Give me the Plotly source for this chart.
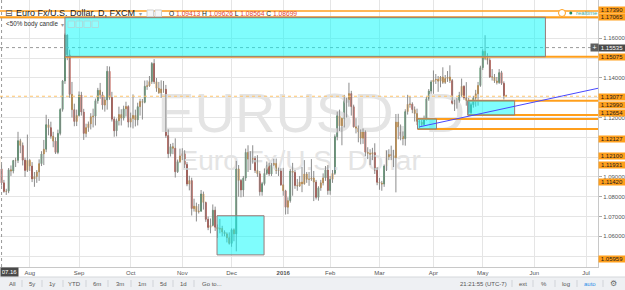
import pandas as pd
import plotly.graph_objects as go

# ---------------- data (EURUSD daily, FXCM) ----------------
OPEN = [
    # Jul 2015
    1.1003, 1.0941, 1.0870, 1.0827, 1.0828, 1.0936, 1.0930, 1.0983, 1.0984, 1.1083, 1.1059, 1.0985, 1.0933,
    # Aug
    1.0984, 1.0955, 1.0890, 1.0902, 1.0925, 1.0967, 1.1016, 1.1040, 1.1164, 1.1149, 1.1106,
    1.1081, 1.1024, 1.1120, 1.1241, 1.1385, 1.1617, 1.1517, 1.1317, 1.1240, 1.1180,
    # Sep
    1.1211, 1.1314, 1.1228, 1.1120, 1.1149, 1.1168, 1.1204, 1.1207, 1.1285, 1.1338, 1.1315,
    1.1263, 1.1289, 1.1434, 1.1302, 1.1192, 1.1133, 1.1184, 1.1215, 1.1197, 1.1244, 1.1256,
    # Oct
    1.1177, 1.1196, 1.1211, 1.1188, 1.1255, 1.1281, 1.1277, 1.1358, 1.1360, 1.1382, 1.1473,
    1.1381, 1.1348, 1.1325, 1.1344, 1.1343, 1.1109, 1.1017, 1.1053, 1.1045, 1.0926, 1.0977,
    # Nov
    1.1006, 1.1018, 1.0963, 1.0864, 1.0882, 1.0740, 1.0752, 1.0724, 1.0727, 1.0814, 1.0771,
    1.0686, 1.0645, 1.0655, 1.0732, 1.0646, 1.0636, 1.0640, 1.0622, 1.0612, 1.0593,
    # Dec
    1.0564, 1.0633, 1.0612, 1.0941, 1.0882, 1.0834, 1.0894, 1.1024, 1.0990, 1.0989, 1.0993,
    1.0933, 1.0916, 1.0825, 1.0866, 1.0918, 1.0956, 1.0915, 1.0962, 1.0968, 1.0933, 1.0930,
    # Jan 2016
    1.0860, 1.0830, 1.0747, 1.0780, 1.0930, 1.0923, 1.0857, 1.0854, 1.0874, 1.0865,
    1.0915, 1.0888, 1.0889, 1.0895, 1.0874, 1.0797, 1.0845, 1.0870, 1.0895, 1.0935,
    # Feb
    1.0831, 1.0888, 1.0918, 1.1103, 1.1210, 1.1158, 1.1196, 1.1288, 1.1289, 1.1321, 1.1255,
    1.1153, 1.1147, 1.1127, 1.1096, 1.1131, 1.1025, 1.1019, 1.1015, 1.1023, 1.0934,
    # Mar
    1.0873, 1.0869, 1.0864, 1.0955, 1.1002, 1.1013, 1.1008, 1.0997, 1.1177, 1.1152, 1.1107, 1.1093,
    1.1230, 1.1267, 1.1268, 1.1240, 1.1220, 1.1181, 1.1177, 1.1165, 1.1196, 1.1295, 1.1334,
    # Apr
    1.1380, 1.1390, 1.1393, 1.1384, 1.1405, 1.1378, 1.1397, 1.1405, 1.1387, 1.1272, 1.1269,
    1.1283, 1.1313, 1.1358, 1.1300, 1.1286, 1.1225, 1.1265, 1.1298, 1.1320, 1.1362,
    # May
    1.1452, 1.1535, 1.1500, 1.1490, 1.1405, 1.1405, 1.1385, 1.1377, 1.1427, 1.1373, 1.1310,
]
HIGH = [
    1.1032, 1.0963, 1.0885, 1.0840, 1.0945, 1.0958, 1.0986, 1.0997, 1.1128, 1.1093, 1.1074, 1.0997, 1.1114,
    1.0990, 1.0975, 1.0925, 1.0935, 1.0989, 1.1030, 1.1087, 1.1214, 1.1193, 1.1179, 1.1128,
    1.1100, 1.1139, 1.1247, 1.1390, 1.1625, 1.1620, 1.1543, 1.1380, 1.1270, 1.1240,
    1.1332, 1.1330, 1.1244, 1.1169, 1.1180, 1.1222, 1.1245, 1.1296, 1.1350, 1.1375, 1.1330,
    1.1305, 1.1460, 1.1458, 1.1330, 1.1205, 1.1195, 1.1255, 1.1242, 1.1260, 1.1280, 1.1262,
    1.1225, 1.1317, 1.1240, 1.1275, 1.1295, 1.1294, 1.1387, 1.1388, 1.1410, 1.1480, 1.1495,
    1.1400, 1.1380, 1.1388, 1.1385, 1.1365, 1.1140, 1.1067, 1.1072, 1.1095, 1.0988, 1.1043,
    1.1045, 1.1035, 1.0975, 1.0906, 1.0896, 1.0790, 1.0770, 1.0763, 1.0834, 1.0826, 1.0775,
    1.0700, 1.0690, 1.0761, 1.0750, 1.0660, 1.0688, 1.0653, 1.0630, 1.0620, 1.0620,
    1.0640, 1.0640, 1.0981, 1.0960, 1.0890, 1.0905, 1.1043, 1.1060, 1.1030, 1.1060, 1.1005,
    1.1010, 1.0930, 1.0875, 1.0943, 1.0978, 1.0972, 1.0970, 1.0991, 1.0993, 1.0947, 1.0944,
    1.0946, 1.0835, 1.0797, 1.0940, 1.0971, 1.0935, 1.0890, 1.0905, 1.0950, 1.0985,
    1.0925, 1.0925, 1.0990, 1.0930, 1.0885, 1.0853, 1.0885, 1.0918, 1.0955, 1.0960,
    1.0905, 1.0935, 1.1115, 1.1230, 1.1240, 1.1200, 1.1315, 1.1300, 1.1376, 1.1335, 1.1265,
    1.1197, 1.1160, 1.1140, 1.1145, 1.1135, 1.1050, 1.1040, 1.1047, 1.1070, 1.0950,
    1.0895, 1.0880, 1.0963, 1.1034, 1.1040, 1.1058, 1.1037, 1.1218, 1.1219, 1.1165, 1.1130, 1.1242,
    1.1315, 1.1307, 1.1277, 1.1256, 1.1245, 1.1190, 1.1190, 1.1210, 1.1305, 1.1344, 1.1389,
    1.1438, 1.1420, 1.1410, 1.1410, 1.1454, 1.1415, 1.1435, 1.1464, 1.1395, 1.1290, 1.1300,
    1.1330, 1.1397, 1.1363, 1.1379, 1.1300, 1.1275, 1.1310, 1.1340, 1.1380, 1.1462,
    1.1545, 1.1616, 1.1525, 1.1500, 1.1445, 1.1420, 1.1405, 1.1445, 1.1436, 1.1383, 1.1315,
]
LOW = [
    1.0915, 1.0856, 1.0820, 1.0809, 1.0818, 1.0905, 1.0918, 1.0950, 1.0970, 1.1020, 1.0958, 1.0900, 1.0925,
    1.0930, 1.0874, 1.0850, 1.0870, 1.0880, 1.0955, 1.0960, 1.1025, 1.1110, 1.1093, 1.1050,
    1.1016, 1.1015, 1.1110, 1.1230, 1.1370, 1.1490, 1.1300, 1.1200, 1.1156, 1.1157,
    1.1205, 1.1210, 1.1087, 1.1101, 1.1128, 1.1140, 1.1150, 1.1160, 1.1270, 1.1295, 1.1240,
    1.1230, 1.1240, 1.1290, 1.1180, 1.1103, 1.1105, 1.1160, 1.1160, 1.1185, 1.1205, 1.1150,
    1.1150, 1.1145, 1.1155, 1.1160, 1.1210, 1.1190, 1.1272, 1.1340, 1.1355, 1.1370, 1.1370,
    1.1330, 1.1320, 1.1300, 1.1325, 1.1098, 1.0995, 1.1003, 1.1015, 1.0897, 1.0920, 1.0970,
    1.0985, 1.0945, 1.0853, 1.0832, 1.0705, 1.0725, 1.0675, 1.0715, 1.0725, 1.0735, 1.0673,
    1.0631, 1.0615, 1.0650, 1.0627, 1.0592, 1.0615, 1.0600, 1.0600, 1.0569, 1.0558,
    1.0547, 1.0575, 1.0524, 1.0800, 1.0797, 1.0800, 1.0880, 1.0925, 1.0935, 1.0967, 1.0920,
    1.0900, 1.0805, 1.0805, 1.0857, 1.0910, 1.0905, 1.0905, 1.0955, 1.0915, 1.0905, 1.0855,
    1.0805, 1.0710, 1.0712, 1.0770, 1.0805, 1.0840, 1.0830, 1.0850, 1.0823, 1.0861,
    1.0870, 1.0855, 1.0880, 1.0778, 1.0786, 1.0780, 1.0830, 1.0857, 1.0880, 1.0810,
    1.0810, 1.0870, 1.0910, 1.1085, 1.1132, 1.1060, 1.1150, 1.1200, 1.1255, 1.1210, 1.1150,
    1.1120, 1.1075, 1.1065, 1.1067, 1.1005, 1.0990, 1.0960, 1.0985, 1.0915, 1.0858,
    1.0835, 1.0830, 1.0850, 1.0930, 1.0985, 1.0985, 1.0950, 1.0822, 1.1090, 1.1085, 1.1060, 1.1058,
    1.1215, 1.1250, 1.1222, 1.1180, 1.1162, 1.1144, 1.1158, 1.1160, 1.1185, 1.1285, 1.1320,
    1.1320, 1.1370, 1.1330, 1.1353, 1.1370, 1.1370, 1.1380, 1.1375, 1.1266, 1.1233, 1.1245,
    1.1275, 1.1305, 1.1290, 1.1260, 1.1214, 1.1217, 1.1250, 1.1255, 1.1260, 1.1355,
    1.1440, 1.1490, 1.1468, 1.1400, 1.1387, 1.1375, 1.1367, 1.1370, 1.1365, 1.1291, 1.1305,
]
CLOSE = [
    1.0947, 1.0870, 1.0827, 1.0828, 1.0936, 1.0930, 1.0983, 1.0984, 1.1083, 1.1059, 1.0985, 1.0933, 1.0984,
    1.0955, 1.0890, 1.0902, 1.0925, 1.0967, 1.1016, 1.1040, 1.1164, 1.1149, 1.1106, 1.1081,
    1.1024, 1.1120, 1.1241, 1.1385, 1.1617, 1.1517, 1.1317, 1.1240, 1.1180, 1.1211,
    1.1314, 1.1228, 1.1120, 1.1149, 1.1168, 1.1204, 1.1207, 1.1285, 1.1338, 1.1315, 1.1263,
    1.1289, 1.1434, 1.1302, 1.1192, 1.1133, 1.1184, 1.1215, 1.1197, 1.1244, 1.1256, 1.1177,
    1.1196, 1.1211, 1.1188, 1.1255, 1.1281, 1.1277, 1.1358, 1.1360, 1.1382, 1.1473, 1.1381,
    1.1348, 1.1325, 1.1344, 1.1343, 1.1109, 1.1017, 1.1053, 1.1045, 1.0926, 1.0977, 1.1006,
    1.1018, 1.0963, 1.0864, 1.0882, 1.0740, 1.0752, 1.0724, 1.0727, 1.0814, 1.0771, 1.0686,
    1.0645, 1.0655, 1.0732, 1.0646, 1.0636, 1.0640, 1.0622, 1.0612, 1.0593, 1.0564,
    1.0633, 1.0612, 1.0941, 1.0882, 1.0834, 1.0894, 1.1024, 1.0990, 1.0989, 1.0993, 1.0933,
    1.0916, 1.0825, 1.0866, 1.0918, 1.0956, 1.0915, 1.0962, 1.0968, 1.0933, 1.0930, 1.0860,
    1.0830, 1.0747, 1.0780, 1.0930, 1.0923, 1.0857, 1.0854, 1.0874, 1.0865, 1.0915,
    1.0888, 1.0889, 1.0895, 1.0874, 1.0797, 1.0845, 1.0870, 1.0895, 1.0935, 1.0831,
    1.0888, 1.0918, 1.1103, 1.1210, 1.1158, 1.1196, 1.1288, 1.1289, 1.1321, 1.1255, 1.1153,
    1.1147, 1.1127, 1.1096, 1.1131, 1.1025, 1.1019, 1.1015, 1.1023, 1.0934, 1.0873,
    1.0869, 1.0864, 1.0955, 1.1002, 1.1013, 1.1008, 1.0997, 1.1177, 1.1152, 1.1107, 1.1093, 1.1230,
    1.1267, 1.1268, 1.1240, 1.1220, 1.1181, 1.1177, 1.1165, 1.1196, 1.1295, 1.1334, 1.1380,
    1.1390, 1.1393, 1.1384, 1.1405, 1.1378, 1.1397, 1.1405, 1.1387, 1.1272, 1.1269, 1.1283,
    1.1313, 1.1358, 1.1300, 1.1286, 1.1225, 1.1265, 1.1298, 1.1320, 1.1362, 1.1452,
    1.1535, 1.1500, 1.1490, 1.1405, 1.1405, 1.1385, 1.1377, 1.1427, 1.1373, 1.1310, 1.1308,
]

HOLIDAYS = ["2015-12-25", "2016-01-01"]
DATES = [d.strftime("%Y-%m-%d") for d in pd.bdate_range("2015-07-15", "2016-05-16")
         if d.strftime("%Y-%m-%d") not in HOLIDAYS]
assert len(DATES) == len(OPEN) == len(HIGH) == len(LOW) == len(CLOSE)

MONTH_TICKS = ["2015-08-03", "2015-09-01", "2015-10-01", "2015-11-02", "2015-12-01", "2016-01-04",
               "2016-02-01", "2016-03-01", "2016-04-01", "2016-05-02", "2016-06-01", "2016-07-01"]
MONTH_LABELS = ["Aug", "Sep", "Oct", "Nov", "Dec", "<b>2016</b>", "Feb", "Mar", "Apr", "May", "Jun", "Jul"]

# price grid (every 0.01); only the levels not hidden behind a level label are printed
PRICE_TICKS = [1.05, 1.06, 1.07, 1.08, 1.09, 1.10, 1.11, 1.12, 1.13, 1.14, 1.15, 1.16, 1.17]
PRINTED_TICKS = [1.06, 1.07, 1.08, 1.09, 1.12, 1.14, 1.16]

FULL_LINES = [1.17390, 1.17065]
LAST_PRICE = 1.13077
CROSS_PRICE = 1.15535
CROSS_DATE = "2015-07-16"
# zones: (x0, x1, low, high)
ZONES = [("2015-08-24", "2016-06-07 17:00", 1.15075, 1.17065),
         ("2015-11-20 19:00", "2015-12-18 20:00", 1.0506, 1.0704),
         ("2016-03-23 05:00", "2016-04-04 07:00", 1.11420, 1.11931),
         ("2016-04-21 14:00", "2016-05-19 14:00", 1.12127, 1.1285)]
RAYS = [("2015-08-24", 1.15075), ("2016-04-21 14:00", 1.1285), ("2016-04-21 14:00", 1.12127),
        ("2016-03-23 05:00", 1.11931), ("2016-03-23 05:00", 1.11420)]
TREND = [("2016-03-24", 1.1153), ("2016-07-08 02:30", 1.1348)]
X_RANGE = ["2015-07-15 08:00", "2016-07-08 02:30"]
Y_RANGE = [1.04449, 1.17940]

# price-scale labels: (text, display row in px, style)
PRICE_LABELS = [("1.17390", 10.5, "o"), ("1.17065", 17.4, "o"), ("1.15535", 47.6, "d"),
                ("1.15075", 57.0, "o"), ("1.13077", 97.0, "o"), ("1.12990", 105.0, "o"),
                ("1.12654", 113.0, "o"), ("1.12127", 139.0, "o"), ("1.12100", 155.5, "o"),
                ("1.11931", 164.5, "o"), ("1.11420", 181.5, "o"), ("1.05959", 258.5, "o")]

# ---------------- styling ----------------
W_PLOT, H_PLOT = 598, 267
FONT = "Liberation Sans, Arial, sans-serif"
GREEN, RED, ORANGE_BODY = "#3a8a58", "#b02e22", "#d8881f"
WICK = "#8c8c8c"
ORANGE = "#ff9f1c"
CYAN = "rgba(0,252,252,0.5)"


def px(X):
    return X / W_PLOT


def py(Y):
    return 1 - Y / H_PLOT


fig = go.Figure()

# watermark (behind candles)
fig.add_trace(go.Scatter(x=["2016-01-19 21:40"], y=[1.1200], mode="text", text=["EURUSD, D"],
                         textfont=dict(size=56, color="#e4e4e4", family=FONT),
                         textposition="middle center", hoverinfo="skip"))
fig.add_trace(go.Scatter(x=["2016-01-13 05:00"], y=[1.0970], mode="text", text=["Euro Fx/U.S. Dollar"],
                         textfont=dict(size=28, color="#e4e4e4", family=FONT),
                         textposition="middle center", hoverinfo="skip"))

# wicks
wx, wy = [], []
for d, h, l in zip(DATES, HIGH, LOW):
    wx += [d, d, None]
    wy += [l, h, None]
fig.add_trace(go.Scatter(x=wx, y=wy, mode="lines", line=dict(color=WICK, width=1), hoverinfo="skip"))

# bodies
groups = {"g": [], "r": [], "s": []}
for i in range(len(DATES)):
    body = abs(CLOSE[i] - OPEN[i])
    rng = HIGH[i] - LOW[i]
    if rng > 0 and body < 0.5 * rng:
        groups["s"].append(i)
    elif CLOSE[i] >= OPEN[i]:
        groups["g"].append(i)
    else:
        groups["r"].append(i)
for key, col in (("g", GREEN), ("r", RED), ("s", ORANGE_BODY)):
    idx = groups[key]
    fig.add_trace(go.Candlestick(
        x=[DATES[i] for i in idx],
        open=[OPEN[i] for i in idx],
        high=[max(OPEN[i], CLOSE[i]) for i in idx],
        low=[min(OPEN[i], CLOSE[i]) for i in idx],
        close=[CLOSE[i] for i in idx],
        increasing=dict(line=dict(color=col, width=1), fillcolor=col),
        decreasing=dict(line=dict(color=col, width=1), fillcolor=col),
        whiskerwidth=0, hoverinfo="skip", showlegend=False))

shapes = []
# crosshair + last price
shapes.append(dict(type="line", xref="paper", yref="y", x0=0, x1=1, y0=CROSS_PRICE, y1=CROSS_PRICE,
                   line=dict(color="#9a9a9a", width=1, dash="dot")))
shapes.append(dict(type="line", xref="x", yref="paper", x0=CROSS_DATE, x1=CROSS_DATE, y0=0, y1=1,
                   line=dict(color="#9a9a9a", width=1, dash="dot")))
shapes.append(dict(type="line", xref="paper", yref="y", x0=0, x1=1, y0=LAST_PRICE, y1=LAST_PRICE,
                   line=dict(color="#ffc46b", width=1, dash="dot")))
# orange levels
for lv, w in zip(FULL_LINES, (1.5, 2)):
    shapes.append(dict(type="line", xref="paper", yref="y", x0=0, x1=1, y0=lv, y1=lv,
                       line=dict(color=ORANGE, width=w)))
for x0, lv in RAYS:
    shapes.append(dict(type="line", xref="x", yref="y", x0=x0, x1=X_RANGE[1], y0=lv, y1=lv,
                       line=dict(color=ORANGE, width=2)))
# zones
for x0, x1, lo, hi in ZONES:
    shapes.append(dict(type="rect", xref="x", yref="y", x0=x0, x1=x1, y0=lo, y1=hi,
                       fillcolor=CYAN, line=dict(color="#9b7a78", width=1)))
# trend line
shapes.append(dict(type="line", xref="x", yref="y", x0=TREND[0][0], y0=TREND[0][1],
                   x1=TREND[1][0], y1=TREND[1][1], line=dict(color="#4848ff", width=1)))

# realtime marker
shapes.append(dict(type="circle", xref="paper", yref="paper", x0=px(558.5), x1=px(565.5),
                   y0=py(16.5), y1=py(9.5), line=dict(color=ORANGE, width=1), fillcolor="white"))
shapes.append(dict(type="circle", xref="paper", yref="paper", x0=px(569.3), x1=px(572.3),
                   y0=py(14.5), y1=py(11.5), line=dict(width=0), fillcolor="#1f8a5c"))

# header icons
for X in (147, 155):
    shapes.append(dict(type="rect", xref="paper", yref="paper", x0=px(X), x1=px(X + 6.5),
                       y0=py(16.5), y1=py(10), line=dict(color="#d0d0d0", width=1), fillcolor="#f7f7f7"))
for X in (68, 76, 84, 92):
    shapes.append(dict(type="rect", xref="paper", yref="paper", x0=px(X), x1=px(X + 6.5),
                       y0=py(27.5), y1=py(21), line=dict(color="#a7dede", width=1), fillcolor="rgba(255,255,255,0.15)"))

# bottom toolbar
shapes.append(dict(type="rect", xref="paper", yref="paper", x0=0, x1=px(625), y0=py(290), y1=py(277),
                   fillcolor="#eef0f3", line=dict(width=0), layer="above"))
shapes.append(dict(type="line", xref="paper", yref="paper", x0=0, x1=px(625), y0=py(277), y1=py(277),
                   line=dict(color="#d5d8dc", width=1)))
for X in (22, 42, 63, 86, 108, 131, 153, 173, 194, 512, 533, 555, 577, 603):
    shapes.append(dict(type="line", xref="paper", yref="paper", x0=px(X), x1=px(X), y0=py(287), y1=py(280),
                       line=dict(color="#d0d3d8", width=1)))

annotations = []
# price axis labels
for text, Y, style in PRICE_LABELS:
    if style == "o":
        bg, fg = ORANGE, "#1a1a1a"
    else:
        bg, fg = "#4a4a4a", "white"
    annotations.append(dict(xref="paper", yref="paper", x=1.0, y=py(Y), xanchor="left", yanchor="middle",
                            text=text, showarrow=False, bgcolor=bg, borderpad=0, width=26,
                            font=dict(size=6, color=fg, family=FONT)))
annotations.append(dict(xref="paper", yref="paper", x=px(590), y=py(47.6), xanchor="left", yanchor="middle",
                        text="+", showarrow=False, bgcolor="#5e5e5e", borderpad=0, width=7,
                        font=dict(size=7, color="white", family=FONT)))
# crosshair date label
annotations.append(dict(xref="paper", yref="paper", x=0, y=py(272), xanchor="left", yanchor="middle",
                        text="07.16", showarrow=False, bgcolor="#4a4a4a", borderpad=1, width=15,
                        font=dict(size=6, color="white", family=FONT)))
# header
annotations.append(dict(xref="paper", yref="paper", x=px(3), y=py(13), xanchor="left", yanchor="middle",
                        text="⊟", showarrow=False, font=dict(size=9, color="#555", family="DejaVu Sans")))
annotations.append(dict(xref="paper", yref="paper", x=px(14), y=py(13), xanchor="left", yanchor="middle",
                        text="Euro Fx/U.S. Dollar, D, FXCM", showarrow=False,
                        font=dict(size=9, color="#222", family=FONT)))
annotations.append(dict(xref="paper", yref="paper", x=px(137), y=py(13.5), xanchor="left", yanchor="middle",
                        text="▾", showarrow=False, font=dict(size=6, color="#999", family="DejaVu Sans")))
red = "#e2473b"
ohlc = (f"O <span style='color:{red}'>1.09413</span> H <span style='color:{red}'>1.09626</span> "
        f"L <span style='color:{red}'>1.08564</span> C <span style='color:{red}'>1.08699</span>")
annotations.append(dict(xref="paper", yref="paper", x=px(167), y=py(13.5), xanchor="left", yanchor="middle",
                        text=ohlc, showarrow=False, font=dict(size=6.7, color="#222", family=FONT)))
annotations.append(dict(xref="paper", yref="paper", x=px(4), y=py(24), xanchor="left", yanchor="middle",
                        text="&lt;50% body candle", showarrow=False, font=dict(size=6.3, color="#333", family=FONT)))
annotations.append(dict(xref="paper", yref="paper", x=px(59), y=py(24), xanchor="left", yanchor="middle",
                        text="▾", showarrow=False, font=dict(size=6, color="#999", family="DejaVu Sans")))
annotations.append(dict(xref="paper", yref="paper", x=px(574), y=py(13), xanchor="left", yanchor="middle",
                        text="realtime", showarrow=False, font=dict(size=6, color="#3fae9c", family=FONT)))
# toolbar texts
for text, X in (("All", 12), ("5y", 32), ("1y", 52), ("YTD", 74), ("6m", 97), ("3m", 120),
                ("1m", 142), ("5d", 163), ("1d", 183), ("Go to...", 212),
                ("21:21:55 (UTC-7)", 483), ("ext", 523), ("%", 544), ("log", 566)):
    annotations.append(dict(xref="paper", yref="paper", x=px(X), y=py(283.5), xanchor="center",
                            yanchor="middle", text=text, showarrow=False,
                            font=dict(size=6, color="#555", family=FONT)))
annotations.append(dict(xref="paper", yref="paper", x=px(590), y=py(283.5), xanchor="center", yanchor="middle",
                        text="auto", showarrow=False, font=dict(size=6, color="#2a8ee8", family=FONT)))
annotations.append(dict(xref="paper", yref="paper", x=px(613), y=py(283.5), xanchor="center", yanchor="middle",
                        text="⚙", showarrow=False, font=dict(size=8, color="#666", family="DejaVu Sans")))

tick_text = [f"{v:.5f}" if v in PRINTED_TICKS else "" for v in PRICE_TICKS]

fig.update_layout(
    template="none",
    width=625, height=290,
    margin=dict(l=0, r=27, t=0, b=23, pad=0),
    paper_bgcolor="white", plot_bgcolor="white",
    showlegend=False,
    boxgap=0.55,
    font=dict(family=FONT, size=6, color="#555"),
    shapes=shapes,
    annotations=annotations,
    xaxis=dict(type="date", range=X_RANGE,
               rangebreaks=[dict(bounds=["sat", "mon"]), dict(values=HOLIDAYS)],
               tickmode="array", tickvals=MONTH_TICKS, ticktext=MONTH_LABELS,
               tickfont=dict(size=6, color="#555", family=FONT), ticks="", ticklen=0,
               showgrid=True, gridcolor="#e5e5e5", gridwidth=1, zeroline=False,
               showline=True, linecolor="#c8c8c8", linewidth=1,
               rangeslider=dict(visible=False), automargin=False, fixedrange=True),
    yaxis=dict(side="right", range=Y_RANGE, tickmode="array", tickvals=PRICE_TICKS, ticktext=tick_text,
               tickfont=dict(size=6, color="#555", family=FONT), ticks="outside", ticklen=3,
               tickcolor="#aaaaaa", showgrid=True, gridcolor="#e5e5e5", gridwidth=1, zeroline=False,
               showline=True, linecolor="#c8c8c8", linewidth=1, automargin=False, fixedrange=True),
)

fig.write_html("out.html", config={"displayModeBar": False})
